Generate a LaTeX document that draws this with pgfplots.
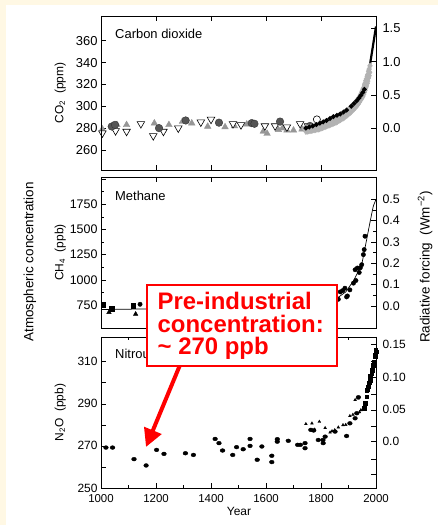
\documentclass[border=0pt]{standalone}
\usepackage{pgfplots}
\pgfplotsset{compat=1.18}
\usepackage{fontspec}
\setmainfont{Liberation Sans}
\usetikzlibrary{arrows.meta}
\definecolor{cream}{RGB}{255,248,228}
\definecolor{annot}{RGB}{255,0,0}
\definecolor{dgray}{RGB}{85,85,85}
\definecolor{mgray}{RGB}{150,150,150}
\definecolor{lgray}{RGB}{178,178,178}

\pgfplotsset{
  panel/.style={scale only axis, width=275bp, xmin=1000, xmax=2000, anchor=south west,
    axis line style={line width=0.6pt}, every tick/.style={black, line width=0.5pt},
    major tick length=5bp, minor tick length=3bp, tick align=inside,
    /pgf/number format/assume math mode=true,
    /pgf/number format/1000 sep={},
    xtick={1000,1200,...,2000}},
  leftside/.style={ytick pos=left, xtick pos=both},
  rightside/.style={hide x axis, ytick pos=right, yticklabel pos=right},
}
\tikzset{lab/.style={at={(axis description cs:-0.148,0.5)}, anchor=center, font=\fontsize{12}{12}\selectfont}}

\begin{document}
\begin{tikzpicture}[x=1bp,y=1bp]
\fill[cream] (0,0) rectangle (438,525);
\fill[white] (6,0) rectangle (438,520);
\useasboundingbox (0,0) rectangle (438,525);

% ---------------- Panel 1: CO2 ----------------
\begin{axis}[panel, leftside, at={(101bp,355bp)}, height=154bp,
  ymin=241.7, ymax=382.6, ytick={260,280,...,360}, xticklabels={},
  yticklabel style={font=\fontsize{13}{13}\selectfont},
  ylabel={CO\textsubscript{2}\ \ (ppm)}, ylabel style={lab}]
\addplot[only marks, mark=triangle*, mark size=3.8, color=mgray] coordinates {
(1005,279) (1058,283) (1093,283) (1194,284.5) (1247,283) (1296,286) (1330,284.5)
(1388,281.5) (1451,281) (1485,282) (1530,283.5) (1590,277) (1604,275) (1645,278.5)
(1660,280) (1676,278) (1700,278) (1731,279) (1760,280)};
\addplot[only marks, mark=triangle*, mark size=4.4, mark options={rotate=180, fill=white, draw=black, line width=0.6pt}] coordinates {
(1005,275.5) (1053,277.5) (1093,277) (1145,284) (1190,273) (1227,277) (1281,280)
(1363,285.5) (1400,288) (1480,284) (1509,283) (1596,282) (1633,282) (1676,281)
(1724,284) (1753,282)};
\addplot[only marks, mark=*, mark size=3.8, mark options={fill=dgray, draw=black!80, line width=0.4pt}] coordinates {
(1039,281.5) (1051,283) (1211,280) (1308,287) (1429,285) (1548,284.6) (1558,284)
(1651,286) (1760,282)};
\addplot[only marks, mark=o, mark size=3.6, mark options={fill=white, draw=black, line width=0.6pt}] coordinates {(1785,288)};
\addplot[only marks, mark=diamond*, mark size=3.2, color=lgray] coordinates {
(1740,279.5) (1745,279.7) (1750,280) (1755,280.2) (1760,280.5) (1765,280.7) (1770,281) (1775,281.5)
(1780,282) (1785,282.5) (1790,283) (1795,283.5) (1800,284) (1805,284.5)
(1810,285) (1815,285.5) (1820,286) (1825,286.5) (1830,287) (1835,287.5) (1840,288) (1845,288.5)
(1850,289) (1855,289.7) (1860,290.5) (1865,291.2) (1870,292) (1875,292.7)
(1880,293.5) (1885,294.2) (1890,295) (1895,296) (1900,297) (1905,298.2) (1910,299.5) (1915,300.7)
(1920,302) (1925,303.5) (1930,305) (1935,306.7) (1940,308.5) (1943,310)
(1945,311) (1948,312.8) (1950,314) (1953,315.8) (1955,317) (1958,319.4) (1960,321) (1963,323.4)
(1965,325) (1968,327.4) (1970,329) (1973,332) (1975,334) (1978,337)};
\addplot[only marks, mark=diamond*, mark size=3.2, color=lgray] coordinates {
(1745,277) (1750,277.2) (1755,277.5) (1760,277.7) (1765,278) (1770,278.2) (1775,278.5) (1780,278.7)
(1785,279) (1790,279.2) (1795,279.5) (1800,280) (1805,280.5) (1810,281)
(1815,281.5) (1820,282) (1825,282.5) (1830,283) (1835,283.5) (1840,284) (1845,284.5) (1850,285)
(1855,285.5) (1860,286.2) (1865,287) (1870,287.7) (1875,288.5) (1880,289.2)
(1885,290) (1890,291) (1895,292) (1900,293) (1905,294) (1910,295.2) (1915,296.5) (1920,297.7)
(1925,299) (1930,300.5) (1935,302) (1940,304) (1945,306) (1948,307.5)
(1952,309) (1955,311) (1958,313) (1960,314.6) (1963,317) (1965,318.6) (1968,321) (1970,323)
(1973,326) (1975,328) (1977,331)};
\addplot[black, line width=2pt, mark=*, mark size=1.2] coordinates {
(1745,280) (1757,281) (1770,282) (1783,283.2) (1796,284.5) (1808,285.7) (1820,287)
(1833,288.8) (1845,290.5) (1858,291.7) (1870,293) (1882,294.7) (1893,296.5)
(1910,300) (1920,302.5) (1930,305) (1938,307.5) (1945,310) (1952,312.7) (1958,315.5)};
\addplot[black, line width=2.2pt] coordinates {
(1958,315.5) (1965,321) (1970,327) (1978,338) (1985,349) (1990,357) (1995,365) (2000,373)};
\end{axis}
\begin{axis}[panel, rightside, at={(101bp,355bp)}, height=154bp,
  ymin=-0.6255, ymax=1.684, ytick={0,0.5,1,1.5},
  yticklabel style={font=\fontsize{13}{13}\selectfont, xshift=3bp, /pgf/number format/.cd, fixed, zerofill, precision=1}]
\end{axis}

% ---------------- Panel 2: CH4 ----------------
\begin{axis}[panel, leftside, at={(101bp,197bp)}, height=151bp,
  ymin=521.6, ymax=2021, ytick={750,1000,...,2000}, yticklabels={750,1000,1250,1500,1750,},
  minor y tick num=1, xticklabels={},
  yticklabel style={font=\fontsize{12.5}{12.5}\selectfont},
  ylabel={CH\textsubscript{4}\ \ (ppb)}, ylabel style={lab}]
\addplot[black, line width=0.7pt] coordinates {
(1000,705) (1150,710) (1300,715) (1500,710) (1700,720) (1800,760) (1857,815) (1890,880)
(1918,990) (1948,1150) (1966,1400) (1978,1570) (1990,1730) (2000,1800)};
\addplot[only marks, mark=square*, mark size=2.4, black] coordinates {
(1008,750) (1039,717) (1117,740) (1250,735) (1450,720)};
\addplot[only marks, mark=triangle*, mark size=2.6, black] coordinates {
(1029,677) (1126,660) (1350,690) (1600,700)};
\addplot[only marks, mark=*, mark size=2.2, black] coordinates {
(1142,757) (1700,730) (1780,770) (1863,807) (1870,880) (1879,893) (1887,917) (1893,830)
(1896,840) (1905,900) (1918,967) (1924,1100) (1927,993) (1932,1117) (1939,1073)
(1943,1120) (1948,1150) (1954,1250) (1957,1300) (1960,1433)};
\end{axis}
\begin{axis}[panel, rightside, at={(101bp,197bp)}, height=151bp,
  ymin=-0.1031, ymax=0.6045, ytick={0,0.1,...,0.5}, minor y tick num=1,
  yticklabel style={font=\fontsize{12.5}{12.5}\selectfont, xshift=3bp, /pgf/number format/.cd, fixed, zerofill, precision=1}]
\end{axis}

% ---------------- Panel 3: N2O ----------------
\begin{axis}[panel, leftside, at={(101bp,37bp)}, height=151bp,
  ymin=250, ymax=321.7, ytick={250,260,...,310}, yticklabels={250,,270,,290,,310},
  minor x tick num=1,
  yticklabel style={font=\fontsize{12}{12}\selectfont},
  xticklabel style={font=\fontsize{11.5}{11.5}\selectfont, yshift=-3bp},
  ylabel={N\textsubscript{2}O\ \ (ppb)}, ylabel style={lab}]
\addplot[only marks, mark=triangle*, mark size=1.6, black] coordinates {
(1745,280.4) (1767,280.7) (1777,277.8) (1794,281.5) (1815,278.5) (1833,276.4) (1840,277)
(1850,277.5) (1863,278.8) (1880,279.9) (1890,280) (1905,284.2) (1916,284.8) (1924,291.8)
(1935,292.6) (1940,286) (1945,287)};
\addplot[only marks, mark=*, mark size=1.9, black, mark options={xscale=1.25}] coordinates {
(1018,269.2) (1042,269.2) (1120,263.7) (1164,260.7) (1202,268.1) (1229,266.2) (1307,266.5)
(1336,265.7) (1415,273.3) (1429,271.3) (1442,267.8) (1479,265.7) (1493,269.4) (1517,268.4)
(1542,273.3) (1542,270) (1568,263.4) (1585,269.7) (1621,265.3) (1621,262.3) (1641,273.2)
(1641,272) (1681,272.4) (1715,270.5) (1725,270.5) (1742,271.3) (1742,268.9) (1763,277.6)
(1773,277.3) (1790,272.8) (1807,272.8) (1808,271.3) (1815,274.4) (1851,276.8) (1893,274.7)
(1905,280.7) (1924,283.1) (1930,285.5) (1936,293.1)};
\addplot[only marks, mark=square*, mark size=1.9, black] coordinates {
(1956,287.9) (1960,290.2) (1966,293.4) (1966,296.5) (1970,297) (1972,298.1) (1975,300)
(1978,301.3) (1980,303) (1984,304.5) (1987,306) (1990,308.4) (1993,310) (1996,312.3)
(1998,313) (1999,315.5) (2000,314.7)};
\end{axis}
\begin{axis}[panel, rightside, at={(101bp,37bp)}, height=151bp,
  ymin=250, ymax=321.7,
  ytick={256.3,263.7,272.0,279.5,287.1,294.5,302.4,310.3,318.2},
  yticklabels={,,0.0,,0.05,,0.10,,0.15},
  yticklabel style={font=\fontsize{12}{12}\selectfont, xshift=3bp}]
\end{axis}

% ---------------- labels ----------------
\node[anchor=base west, font=\fontsize{13}{13}\selectfont, inner sep=0] at (115,486.5) {Carbon dioxide};
\node[anchor=base west, font=\fontsize{13}{13}\selectfont, inner sep=0] at (115,324.3) {Methane};
\node[anchor=base west, font=\fontsize{13}{13}\selectfont, inner sep=0] at (115,166.7) {Nitrous oxide};
\node[rotate=90, font=\fontsize{13.5}{13.5}\selectfont] at (30,263) {Atmospheric concentration};
\node[rotate=90, font=\fontsize{13.5}{13.5}\selectfont] at (425,258) {Radiative forcing\ \ (Wm\textsuperscript{−2})};
\node[font=\fontsize{12}{12}\selectfont] at (239,14) {Year};

% ---------------- annotation ----------------
\draw[annot, line width=4bp, -{Triangle[length=18bp,width=18bp]}] (180,160) -- (146,78);
\filldraw[draw=annot, fill=white, line width=2.5bp] (147,240) rectangle (337,159);
\node[anchor=base west, text=annot, font=\bfseries\fontsize{24}{24}\selectfont, inner sep=0] at (157.5,215) {Pre-industrial};
\node[anchor=base west, text=annot, font=\bfseries\fontsize{24}{24}\selectfont, inner sep=0] at (157.5,192) {concentration:};
\node[anchor=base west, text=annot, font=\bfseries\fontsize{24}{24}\selectfont, inner sep=0] at (157.5,170) {\textasciitilde\ 270 ppb};
\end{tikzpicture}
\end{document}
